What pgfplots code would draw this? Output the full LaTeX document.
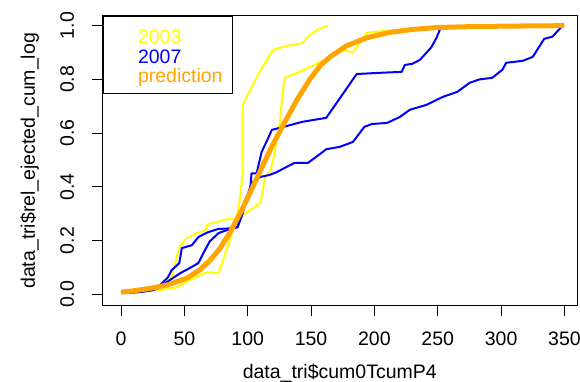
\documentclass[border=0pt]{standalone}
\usepackage{fontspec}
\setmainfont{Liberation Sans}
\usepackage{pgfplots}
\pgfplotsset{compat=1.18}
\definecolor{ryellow}{HTML}{FFFF00}
\definecolor{rblue}{HTML}{0000FF}
\definecolor{rorange}{HTML}{FFA500}
\begin{document}
\fontsize{19.5}{22}\selectfont
\begin{tikzpicture}
\useasboundingbox (0,0) rectangle (580pt,381pt);
\begin{axis}[
  at={(102.5pt,75.3pt)}, anchor=south west,
  scale only axis, width=474.5pt, height=289.7pt,
  xmin=-14.6, xmax=359.9, ymin=-0.0424, ymax=1.036,
  xtick={0,50,100,150,200,250,300,350},
  ytick={0,0.2,0.4,0.6,0.8,1.0},
  yticklabels={0.0,0.2,0.4,0.6,0.8,1.0},
  tick align=outside, xtick pos=bottom, ytick pos=left,
  major tick length=10.5pt,
  every tick/.style={black, line width=1pt},
  axis line style={line width=1pt},
  /pgf/number format/assume math mode=true,
  tick label style={font=\fontsize{19.5}{22}\selectfont},
  xticklabel style={anchor=base},
  xticklabel shift=28.8pt,
  yticklabel style={anchor=base, rotate=90},
  yticklabel shift=18pt,
  xlabel={data\_tri\$cum0TcumP4},
  ylabel={data\_tri\$rel\_ejected\_cum\_log},
  every axis x label/.style={at={(axis description cs:0.5,-0.2496)}, anchor=base, font=\fontsize{19.5}{22}\selectfont},
  every axis y label/.style={at={(axis description cs:-0.1423,0.5)}, anchor=base, rotate=90, font=\fontsize{19.5}{22}\selectfont},
  legend style={at={(rel axis cs:0,1)}, anchor=north west, draw=black, line width=1pt, fill=white,
    inner xsep=10pt, inner ysep=9.15pt, row sep=0pt, column sep=0pt,
    font=\fontsize{19.5}{22}\selectfont,
    nodes={inner sep=0pt, text height=17.85pt, text depth=1.85pt}},
  legend cell align=left,
  line join=round,
]
% 2003 series
\addplot[ryellow, line width=2pt, forget plot] coordinates {
(0,0.01)(15,0.012)(25,0.02)(35,0.04)(40,0.065)(46,0.175)(52,0.21)(60,0.228)(67,0.24)(68,0.26)(84,0.28)(91,0.28)(94,0.36)(96,0.455)(96,0.575)(96,0.705)(109,0.825)(120,0.91)(131.6,0.925)(143,0.935)(149,0.965)(155,0.985)(163,1.0)
};
\addplot[ryellow, line width=2pt, forget plot] coordinates {
(0,0.01)(29,0.015)(44,0.026)(57,0.06)(68,0.082)(77,0.078)(80,0.12)(92,0.29)(98,0.30)(110,0.34)(114,0.44)(118,0.46)(121,0.52)(125,0.63)(129,0.806)(141,0.828)(161,0.873)(175,0.91)(183,0.899)(194,0.974)(210,0.981)(241,0.99)(250,1.0)
};
% 2007 series
\addplot[rblue, line width=2pt, forget plot] coordinates {
(0,0.01)(5,0.005)(15,0.008)(25,0.015)(31,0.026)(36,0.045)(46.5,0.078)(54,0.097)(61,0.116)(65,0.153)(70,0.197)(77,0.228)(86,0.243)(92,0.25)(94,0.284)(98,0.35)(102,0.39)(103,0.45)(107,0.45)(111,0.53)(116,0.58)(119,0.612)(128,0.623)(143,0.642)(162,0.657)(186,0.82)(206.5,0.825)(221.5,0.828)(224,0.854)(230,0.858)(236,0.873)(245,0.92)(249,0.955)(253,1.0)
};
\addplot[rblue, line width=2pt, forget plot] coordinates {
(0,0.01)(10,0.01)(20,0.015)(30,0.03)(37,0.063)(40,0.09)(46,0.116)(48,0.172)(56,0.183)(61,0.213)(68.6,0.231)(76.5,0.243)(88,0.246)(92,0.25)(96,0.3)(99,0.355)(103,0.414)(110,0.437)(117,0.444)(123,0.455)(131,0.475)(137,0.489)(147.5,0.489)(157,0.522)(162,0.54)(172.6,0.549)(183,0.567)(192,0.623)(198,0.634)(210,0.638)(220,0.66)(228,0.687)(241,0.705)(254,0.735)(265.6,0.754)(275,0.787)(283,0.8)(293,0.806)(301,0.836)(304,0.862)(317,0.869)(325,0.884)(334,0.951)(340.5,0.959)(348.5,1.0)
};
% prediction
\addplot[rorange, line width=5pt, forget plot] coordinates {
(0,0.008)(10,0.013)(23,0.022)(36,0.034)(52,0.06)(62,0.09)(70,0.125)(78,0.17)(86,0.23)(95,0.31)(104,0.4)(112,0.48)(119,0.55)(128,0.63)(139,0.725)(149,0.8)(157,0.85)(165,0.884)(178,0.925)(194,0.955)(212,0.975)(230,0.986)(249,0.993)(280,0.997)(320,0.999)(350,1.0)
};
\addlegendimage{legend image code/.code={\path (0pt,0pt) (24pt,0pt);}}
\addlegendentry[text=ryellow]{2003}
\addlegendimage{legend image code/.code={\path (0pt,0pt) (24pt,0pt);}}
\addlegendentry[text=rblue]{2007}
\addlegendimage{legend image code/.code={\path (0pt,0pt) (24pt,0pt);}}
\addlegendentry[text=rorange]{prediction}
\end{axis}
\end{tikzpicture}
\end{document}
